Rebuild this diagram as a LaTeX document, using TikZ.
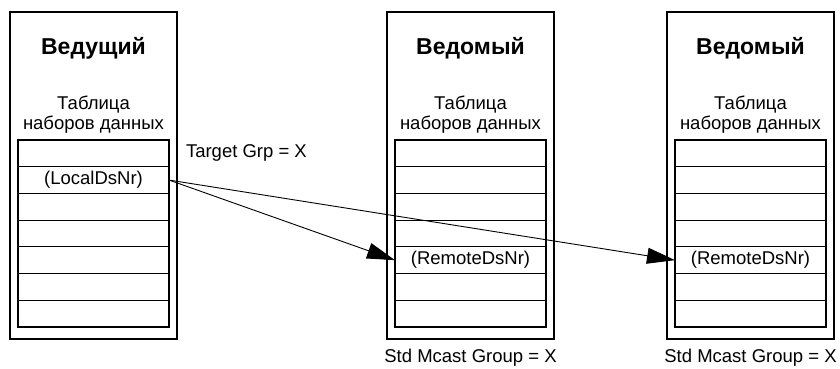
\documentclass[tikz,border=0pt]{standalone}
\usepackage{fontspec}
\setmainfont{Liberation Sans}
\usetikzlibrary{arrows.meta,positioning}

\begin{document}
\begin{tikzpicture}[
    x=1pt, y=-1pt,
    every node/.style={align=center, inner sep=0pt, outer sep=0pt},
    station/.style={rectangle, draw, line width=2pt, minimum width=167pt, minimum height=327pt},
    dsrow/.style={rectangle, draw, line width=0.8pt, minimum width=151pt, minimum height=26.7pt, font=\fontsize{18.5}{20}\selectfont},
    headtxt/.style={font=\bfseries\fontsize{23}{26}\selectfont},
    txt/.style={font=\fontsize{18.5}{20}\selectfont},
    arrow/.style={line width=0.9pt, -{Triangle[length=28pt,width=16pt]}}
]
\useasboundingbox (0,0) rectangle (840,369);

% Stations with their data set tables
\foreach \id/\x/\role in {m/93.5/Ведущий, a/470.5/Ведомый, b/750.5/Ведомый} {
    \node[station] (\id-box) at (\x,175.5) {};
    \node[headtxt] (\id-title) at (\x,48) {\role};
    \node[txt] (\id-tab) at (\x,115) {Таблица\\наборов данных};
    \foreach \r in {1,...,7}
        \node[dsrow] (\id-r\r) at (\x,{140+13.35+(\r-1)*26.7}) {};
    \draw[line width=2pt] (\id-r1.north west) rectangle (\id-r7.south east);
}

% Entries
\node[txt] (local) at (m-r2) {(LocalDsNr)};
\node[txt] (remote-a) at (a-r5) {(RemoteDsNr)};
\node[txt] (remote-b) at (b-r5) {(RemoteDsNr)};

% Group labels
\node[txt, anchor=west] (target) at (186,153) {Target Grp = X};
\node[txt] (mcast-a) at (a-box.south |- 0,358) {Std Mcast Group = X};
\node[txt] (mcast-b) at (b-box.south |- 0,358) {Std Mcast Group = X};

% Connections
\draw[arrow] (m-r2.east) -- (a-r5.west);
\draw[arrow] (m-r2.east) -- (b-r5.west);

\end{tikzpicture}
\end{document}
